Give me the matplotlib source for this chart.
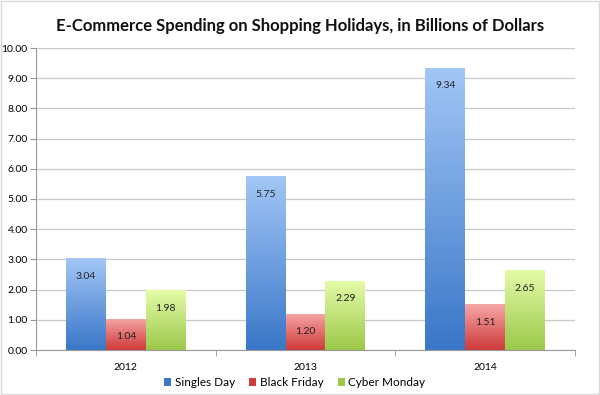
import numpy as np
import matplotlib.pyplot as plt
from matplotlib.colors import LinearSegmentedColormap
from matplotlib.patches import Rectangle

years = ["2012", "2013", "2014"]
series = ["Singles Day", "Black Friday", "Cyber Monday"]
singles_day = [3.04, 5.75, 9.34]
black_friday = [1.04, 1.20, 1.51]
cyber_monday = [1.98, 2.29, 2.65]

# (bottom colour, top colour) for each series' gradient
grads = [("#3a77c8", "#a2c6f6"), ("#cf3a3a", "#f6a6a6"), ("#9cc84a", "#e4fca8")]

plt.rcParams["font.family"] = ["Lato", "DejaVu Sans"]

fig = plt.figure(figsize=(6, 3.95), dpi=100)
ax = fig.add_axes([36 / 600, 45 / 395, 539 / 600, 302 / 395])

x = np.arange(len(years))
w = 2 / 9
grad = np.linspace(0, 1, 100).reshape(-1, 1)

for i, (name, vals) in enumerate(zip(series, [singles_day, black_friday, cyber_monday])):
    cmap = LinearSegmentedColormap.from_list(name, grads[i])
    for xi, v in zip(x, vals):
        left = xi + (i - 1) * w - w / 2
        im = ax.imshow(grad, cmap=cmap, aspect="auto", origin="lower",
                       extent=[left, left + w, 0, v], zorder=2)
        r = Rectangle((left, 0), w, v, facecolor="none", edgecolor="none", zorder=3)
        ax.add_patch(r)
        im.set_clip_path(r)
        ax.annotate(f"{v:.2f}", (left + w / 2, v), xytext=(0, -13), textcoords="offset points",
                    ha="center", va="center", fontsize=7.5, color="#222222", zorder=4)
    ax.bar([0], [0], color=grads[i][0], label=name)

ax.set_xlim(-0.5, 2.5)
ax.set_ylim(0, 10)
ax.set_yticks(np.arange(0, 11, 1))
ax.set_yticklabels([f"{t:.2f}" for t in np.arange(0, 11, 1)])
ax.set_xticks(x)
ax.set_xticklabels(years)
ax.set_xticks([-0.5, 0.5, 1.5, 2.5], minor=True)
ax.tick_params(axis="x", which="major", length=0, pad=9, labelsize=7.5)
ax.tick_params(axis="x", which="minor", length=4, color="#999999")
ax.tick_params(axis="y", length=4, color="#999999", labelsize=7.5, pad=2)
ax.grid(axis="y", color="#c8c8c8", linewidth=0.9, zorder=0)
ax.set_axisbelow(True)
for s in ["top", "right"]:
    ax.spines[s].set_visible(False)
ax.spines["left"].set_color("#999999")
ax.spines["bottom"].set_color("#999999")

fig.suptitle("E-Commerce Spending on Shopping Holidays, in Billions of Dollars",
             x=0.5, y=0.955, fontsize=12, fontweight="bold", color="#111111")
ax.legend(loc="center", bbox_to_anchor=(0.48, -0.108), ncol=3, frameon=False,
          fontsize=8.5, handlelength=0.6, handleheight=0.6, handletextpad=0.3,
          columnspacing=1.2, borderpad=0.1)

fig.patches.append(Rectangle((0.002, 0.002), 0.996, 0.996, transform=fig.transFigure,
                             fill=False, edgecolor="#d8d8d8", linewidth=1))

plt.savefig("out.png", dpi=100)
